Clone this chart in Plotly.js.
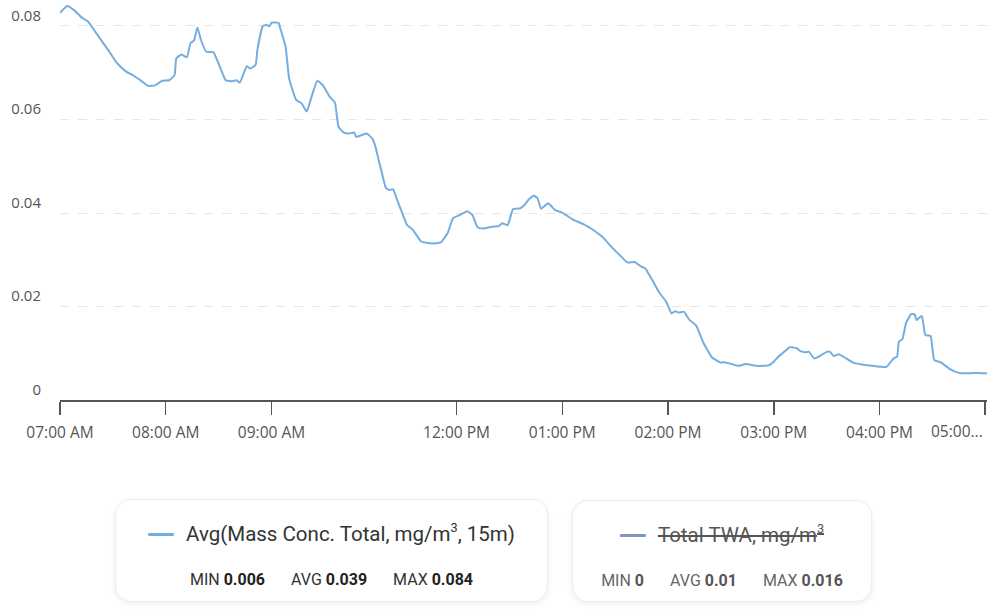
<!DOCTYPE html>
<html>
<head>
<meta charset="utf-8">
<script src="https://cdn.plot.ly/plotly-3.0.1.min.js"></script>
<style>
  html, body { margin: 0; padding: 0; background: #fff; }
  #wrap { position: relative; width: 995px; height: 614px; overflow: hidden; font-family: Roboto, "Noto Sans", sans-serif; }
  #chart { position: absolute; left: 0; top: 0; width: 995px; height: 470px; }
  .lg { position: absolute; background: #fff; border: 1px solid #ededed; border-radius: 16px;
        box-shadow: 0 2px 6px rgba(0,0,0,0.07); box-sizing: border-box; }
  .row1 { position: absolute; left: 0; right: 0; top: 20px; height: 28px; display: flex; justify-content: center; align-items: center;
          font-size: 20.5px; color: #333; white-space: nowrap; }
  .row2 { position: absolute; left: 0; right: 0; top: 67px; height: 24px; display: flex; justify-content: center; align-items: center;
          font-size: 16px; color: #333; white-space: nowrap; }
  .sw { display: inline-block; width: 26px; height: 3px; margin-right: 12px; border-radius: 1px; }
  .row2 span.it { margin: 0 13px; }
  .row2 b { font-weight: 700; color: #222; }
  .off .row1 { color: #555; }
  .off .row1 .nm { text-decoration: line-through; }
  .off .row2 { color: #666; }
  .off .row2 b { color: #555; }
  sup { font-size: 0.62em; vertical-align: 0.7em; line-height: 0; }
</style>
</head>
<body>
<div id="wrap">
  <div id="chart"></div>
  <div id="legends"></div>
</div>
<script>
// ---- data ----
var day = "2024-01-01 ";
var times = ["07:00","07:04","07:08","07:12","07:16","07:20","07:24","07:28","07:32","07:37","07:42","07:46","07:50","07:54","07:58","08:02","08:05","08:06","08:09","08:12","08:14","08:16","08:18","08:20","08:23","08:27","08:31","08:34","08:38","08:40","08:42","08:46","08:48","08:51","08:52","08:55","08:57","08:59","09:00","09:04","09:05","09:08","09:10","09:14","09:17","09:20","09:23","09:26","09:29","09:33","09:36","09:38","09:41","09:44","09:47","09:48","09:54","09:57","09:59","11:16","11:17","11:20","11:22","11:24","11:26","11:30","11:32","11:35","11:40","11:46","11:51","11:55","11:58","12:02","12:06","12:09","12:12","12:15","12:21","12:24","12:26","12:29","12:32","12:36","12:38","12:41","12:44","12:46","12:48","12:52","12:56","13:00","13:06","13:12","13:19","13:23","13:28","13:32","13:37","13:41","13:45","13:47","13:51","13:55","13:59","14:02","14:04","14:06","14:09","14:12","14:16","14:20","14:25","14:30","14:32","14:36","14:40","14:44","14:50","14:57","15:00","15:03","15:05","15:09","15:13","15:15","15:18","15:20","15:23","15:27","15:30","15:32","15:34","15:37","15:41","15:45","15:50","15:56","16:04","16:08","16:10","16:11","16:13","16:15","16:18","16:20","16:21","16:24","16:26","16:29","16:31","16:35","16:40","16:45","16:51","16:55","17:01"];
var massConc = [0.0828,0.0843,0.0834,0.0819,0.0809,0.0788,0.0766,0.0745,0.0722,0.0704,0.0693,0.0683,0.0672,0.0673,0.0683,0.0684,0.0695,0.0731,0.0739,0.0733,0.0763,0.0769,0.0797,0.0770,0.0745,0.0744,0.0710,0.0684,0.0682,0.0684,0.0679,0.0714,0.0709,0.0717,0.0749,0.0799,0.0802,0.0800,0.0807,0.0807,0.0795,0.0756,0.0688,0.0642,0.0635,0.0617,0.0652,0.0683,0.0674,0.0649,0.0636,0.0585,0.0572,0.0570,0.0572,0.0563,0.0570,0.0560,0.0542,0.0510,0.0496,0.0453,0.0449,0.0451,0.0431,0.0392,0.0374,0.0365,0.0339,0.0335,0.0337,0.0357,0.0389,0.0396,0.0404,0.0396,0.0369,0.0367,0.0371,0.0372,0.0378,0.0374,0.0408,0.0410,0.0415,0.0429,0.0437,0.0431,0.0409,0.0421,0.0406,0.0401,0.0386,0.0376,0.0360,0.0348,0.0327,0.0312,0.0294,0.0295,0.0285,0.0282,0.0257,0.0230,0.0210,0.0185,0.0190,0.0187,0.0189,0.0172,0.0159,0.0123,0.0091,0.0080,0.0081,0.0077,0.0073,0.0077,0.0073,0.0074,0.0082,0.0094,0.0100,0.0113,0.0111,0.0105,0.0102,0.0103,0.0089,0.0096,0.0103,0.0103,0.0094,0.0098,0.0089,0.0080,0.0076,0.0073,0.0071,0.0089,0.0093,0.0125,0.0130,0.0164,0.0184,0.0183,0.0171,0.0180,0.0139,0.0137,0.0086,0.0080,0.0066,0.0058,0.0057,0.0058,0.0057];
var gapStart = "10:00", gapEnd = "11:15";
var tickTimes = ["07:00","08:00","09:00","12:00","13:00","14:00","15:00","16:00","17:00"];
var tickLabels = ["07:00 AM","08:00 AM","09:00 AM","12:00 PM","01:00 PM","02:00 PM","03:00 PM","04:00 PM","05:00..."];
var yTicks = [0, 0.02, 0.04, 0.06, 0.08];
var yTickLabels = ["0", "0.02", "0.04", "0.06", "0.08"];
var seriesNames = ["Avg(Mass Conc. Total, mg/m<sup>3</sup>, 15m)", "Total TWA, mg/m<sup>3</sup>"];
var seriesColors = ["#74aee0", "#7c95c4"];
var seriesVisible = [true, false];
var statMin = ["0.006", "0"];
var statAvg = ["0.039", "0.01"];
var statMax = ["0.084", "0.016"];

// the last tick label sits at the plot's right edge; draw it right-aligned to its tick so it stays inside
var lastIdx = tickLabels.length - 1;
var axisLabels = tickLabels.map(function (t, i) { return i === lastIdx ? "" : t; });

// ---- chart ----
var trace = {
  x: times.map(function (t) { return day + t; }),
  y: massConc,
  type: "scatter",
  mode: "lines",
  line: { color: seriesColors[0], width: 2, shape: "spline", smoothing: 0.4 },
  hoverinfo: "skip",
  showlegend: false
};

var layout = {
  width: 995, height: 470,
  margin: { l: 60, r: 8, t: 0, b: 70 },
  paper_bgcolor: "#fff", plot_bgcolor: "#fff",
  showlegend: false,
  font: { family: "'Open Sans', 'Noto Sans', sans-serif", size: 15, color: "#555" },
  xaxis: {
    type: "date",
    range: [day + "07:00", day + "17:01"],
    rangebreaks: [{ bounds: [day + gapStart, day + gapEnd] }],
    tickmode: "array",
    tickvals: tickTimes.map(function (t) { return day + t; }),
    ticktext: axisLabels,
    ticks: "outside", ticklen: 13, tickwidth: 1.5, tickcolor: "#555",
    showline: true, linecolor: "#555", linewidth: 1.5,
    showgrid: false, zeroline: false,
    ticklabelstandoff: 5,
    tickfont: { size: 15.5, color: "#555" },
    fixedrange: true
  },
  yaxis: {
    range: [0, 0.08556],
    tickmode: "array",
    tickvals: yTicks,
    ticktext: yTickLabels,
    showline: false, zeroline: false,
    showgrid: true, gridcolor: "#e6e6e6", gridwidth: 1, griddash: "dash",
    ticks: "",
    ticklabelposition: "outside top",
    ticklabelstandoff: 18,
    tickfont: { size: 15, color: "#555" },
    fixedrange: true
  },
  annotations: [{
    x: day + tickTimes[lastIdx], xref: "x",
    y: 0, yref: "paper",
    xanchor: "right", yanchor: "top",
    xshift: 0, yshift: -18,
    text: tickLabels[lastIdx],
    showarrow: false,
    font: { size: 15.5, color: "#555", family: "'Open Sans', 'Noto Sans', sans-serif" }
  }]
};

Plotly.newPlot("chart", [trace], layout, { staticPlot: true, displayModeBar: false });

// ---- legend cards ----
var boxes = [
  { left: 115, top: 499, width: 433, height: 103 },
  { left: 572, top: 500, width: 300, height: 102 }
];
var lg = document.getElementById("legends");
for (var i = 0; i < seriesNames.length; i++) {
  var b = boxes[i];
  var d = document.createElement("div");
  d.className = "lg" + (seriesVisible[i] ? "" : " off");
  d.style.left = b.left + "px"; d.style.top = b.top + "px";
  d.style.width = b.width + "px"; d.style.height = b.height + "px";
  d.innerHTML =
    '<div class="row1"><span class="sw" style="background:' + seriesColors[i] + '"></span><span class="nm">' + seriesNames[i] + '</span></div>' +
    '<div class="row2"><span class="it">MIN <b>' + statMin[i] + '</b></span><span class="it">AVG <b>' + statAvg[i] + '</b></span><span class="it">MAX <b>' + statMax[i] + '</b></span></div>';
  lg.appendChild(d);
}
</script>
</body>
</html>
